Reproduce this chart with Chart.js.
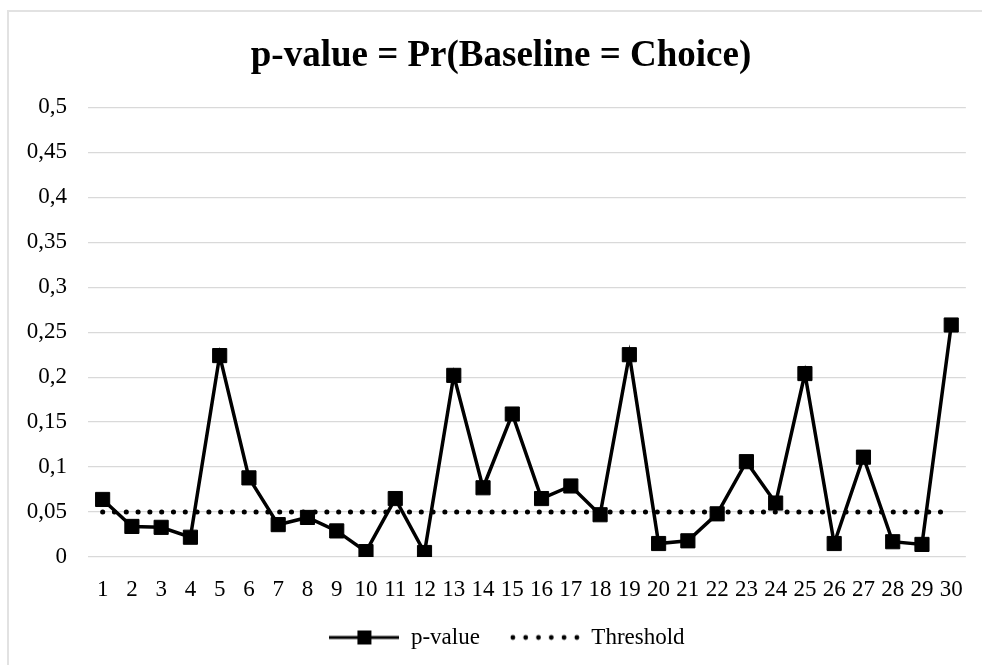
<!DOCTYPE html>
<html>
<head>
<meta charset="utf-8">
<script src="https://cdn.jsdelivr.net/npm/chart.js@4"></script>
<style>
  html, body { margin: 0; padding: 0; background: #fff; }
  #wrap { position: relative; width: 982px; height: 665px; overflow: hidden; }
  #frame { position: absolute; left: 7px; top: 10px; width: 990px; height: 680px; border: 2px solid #e2e2e2; box-sizing: border-box; }
  #chart { position: absolute; left: 0; top: 0; }
</style>
</head>
<body>
<div id="wrap">
  <div id="frame"></div>
  <canvas id="chart" width="982" height="665"></canvas>
</div>
<script>
// categories on the x axis
const categories = ['1', '2', '3', '4', '5', '6', '7', '8', '9', '10',
  '11', '12', '13', '14', '15', '16', '17', '18', '19', '20',
  '21', '22', '23', '24', '25', '26', '27', '28', '29', '30'];

// p-value per category
const pValues = [0.064, 0.034, 0.033, 0.022, 0.224, 0.088, 0.036, 0.044, 0.029, 0.006,
  0.065, 0.005, 0.202, 0.077, 0.159, 0.065, 0.079, 0.047, 0.225, 0.015,
  0.018, 0.048, 0.106, 0.060, 0.204, 0.015, 0.111, 0.017, 0.014, 0.258];

// significance threshold line
const threshold = [0.05, 0.05, 0.05, 0.05, 0.05, 0.05, 0.05, 0.05, 0.05, 0.05,
  0.05, 0.05, 0.05, 0.05, 0.05, 0.05, 0.05, 0.05, 0.05, 0.05,
  0.05, 0.05, 0.05, 0.05, 0.05, 0.05, 0.05, 0.05, 0.05, 0.05];

// y axis tick labels (comma decimals)
const yTickLabels = ['0', '0,05', '0,1', '0,15', '0,2', '0,25', '0,3', '0,35', '0,4', '0,45', '0,5'];

const FONT = "'Liberation Serif', 'Times New Roman', serif";

// legend symbols: line with square marker, and a dotted line
function lineMarkerIcon() {
  const c = document.createElement('canvas');
  c.width = 70; c.height = 16;
  const g = c.getContext('2d');
  g.fillStyle = '#000';
  g.fillRect(0, 6.5, 70, 3);
  g.fillRect(28, 1, 14, 14);
  return c;
}
function dottedIcon() {
  const c = document.createElement('canvas');
  c.width = 70; c.height = 16;
  const g = c.getContext('2d');
  g.fillStyle = '#000';
  for (let i = 0; i < 6; i++) {
    g.beginPath();
    g.arc(3 + i * 12.8, 8, 2.4, 0, Math.PI * 2);
    g.fill();
  }
  return c;
}
const legendIcons = [lineMarkerIcon(), dottedIcon()];

// nudge title and legend sideways, and let the x labels draw past the scale box
const layoutTweaks = {
  id: 'layoutTweaks',
  afterLayout(chart) {
    chart.titleBlock.left += 18;
    chart.titleBlock.right += 18;
    chart.legend.left += 24;
    chart.legend.right += 24;
    chart.scales.x.bottom += 30;
  }
};

const ctx = document.getElementById('chart').getContext('2d');
const chart = new Chart(ctx, {
  type: 'line',
  data: {
    labels: categories,
    datasets: [{
      label: 'p-value',
      data: pValues,
      borderColor: '#000',
      backgroundColor: '#000',
      borderWidth: 3.5,
      pointStyle: 'rect',
      pointRadius: 10,
      pointBorderWidth: 1,
      tension: 0
    }, {
      label: 'Threshold',
      data: threshold,
      borderColor: '#000',
      borderWidth: 5,
      borderDash: [0.1, 11.7],
      borderCapStyle: 'round',
      pointRadius: 0,
      tension: 0
    }]
  },
  options: {
    responsive: false,
    animation: false,
    layout: { padding: { left: 0, right: 16, top: 0, bottom: 6 } },
    scales: {
      x: {
        offset: true,
        grid: { display: false, drawTicks: false },
        border: { display: false },
        ticks: { color: '#000', font: { family: FONT, size: 23 }, padding: 19, maxRotation: 0, autoSkip: false },
        afterFit(scale) { scale.height = 39; }
      },
      y: {
        min: 0,
        max: 0.5,
        grid: { color: '#d9d9d9', lineWidth: 1.3, drawTicks: false },
        border: { display: false },
        ticks: {
          stepSize: 0.05,
          color: '#000',
          padding: 21,
          font: { family: FONT, size: 23 },
          callback: (value, index) => yTickLabels[index]
        },
        afterFit(scale) { scale.width = 88; }
      }
    },
    plugins: {
      title: {
        display: true,
        text: 'p-value = Pr(Baseline = Choice)',
        color: '#000',
        font: { family: FONT, size: 37, weight: 'bold' },
        padding: { top: 34, bottom: 29 }
      },
      legend: {
        position: 'bottom',
        labels: {
          color: '#000',
          font: { family: FONT, size: 23 },
          usePointStyle: true,
          pointStyleWidth: 70,
          padding: 30,
          generateLabels: (chart) => chart.data.datasets.map((ds, i) => ({
            text: ds.label,
            pointStyle: legendIcons[i],
            datasetIndex: i,
            fontColor: '#000',
            lineWidth: 0,
            strokeStyle: 'transparent',
            fillStyle: 'transparent'
          }))
        }
      },
      tooltip: { enabled: false }
    }
  },
  plugins: [layoutTweaks]
});
</script>
</body>
</html>
